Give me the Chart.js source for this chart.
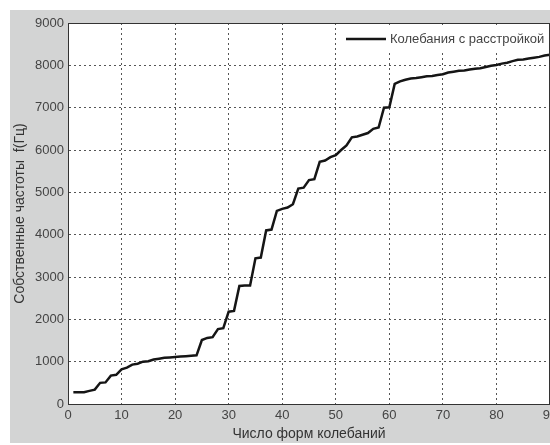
<!DOCTYPE html>
<html>
<head>
<meta charset="utf-8">
<script src="https://cdn.jsdelivr.net/npm/chart.js@4.4.1/dist/chart.umd.min.js"></script>
<style>
  body { margin: 0; background: #fff; }
  #wrap { width: 550px; height: 445px; }
</style>
</head>
<body>
<div id="wrap"><canvas id="chart" width="550" height="445"></canvas></div>
<script>
// номер формы колебаний
var Modes = [];
for (let i = 1; i <= 90; i++) Modes.push(i);

// собственные частоты, Гц (колебания с расстройкой)
var Freq = [
    280, 280, 280, 310, 340, 500, 510, 670, 690, 820,
    860, 930, 950, 1000, 1010, 1050, 1070, 1090, 1100, 1110,
    1120, 1130, 1140, 1150, 1510, 1560, 1580, 1770, 1790, 2180,
    2200, 2790, 2800, 2800, 3440, 3460, 4100, 4120, 4560, 4610,
    4640, 4720, 5090, 5110, 5290, 5310, 5720, 5750, 5830, 5880,
    6000, 6110, 6300, 6320, 6360, 6400, 6500, 6530, 7000, 7010,
    7560, 7620, 7660, 7690, 7700, 7720, 7740, 7750, 7770, 7790,
    7830, 7850, 7870, 7880, 7900, 7920, 7930, 7960, 7990, 8010,
    8040, 8060, 8100, 8130, 8140, 8160, 8180, 8200, 8230, 8250
];

var SeriesName = "Колебания с расстройкой";
var XTitle = "Число форм колебаний";
var YTitle = "Собственные частоты  f(Гц)";

var points = [];
for (let i = 0; i < Modes.length; i++) {
    points.push({ x: Modes[i], y: Freq[i] });
}

var font = "'Liberation Sans', Arial, sans-serif";

// серый фон вокруг и белое поле графика, рамка, легенда
var backPlugin = {
    id: 'back',
    beforeDraw: function (chart) {
        var ctx = chart.ctx;
        var a = chart.chartArea;
        ctx.save();
        ctx.fillStyle = '#ffffff';
        ctx.fillRect(0, 0, chart.width, chart.height);
        ctx.fillStyle = '#d3d4d4';
        ctx.fillRect(10, 10, chart.width - 10, chart.height - 12);
        ctx.fillStyle = '#ffffff';
        ctx.fillRect(a.left, a.top, a.right - a.left, a.bottom - a.top);
        ctx.restore();
    },
    afterDraw: function (chart) {
        var ctx = chart.ctx;
        var a = chart.chartArea;
        var ds = chart.data.datasets[0];
        ctx.save();
        ctx.strokeStyle = '#333';
        ctx.lineWidth = 1;
        ctx.strokeRect(a.left + 0.5, a.top + 0.5, a.right - a.left - 1, a.bottom - a.top);

        // легенда
        var ly = a.top + 16;
        ctx.fillStyle = '#ffffff';
        ctx.fillRect(a.right - 210, a.top + 4, 208, 24);
        ctx.strokeStyle = ds.borderColor;
        ctx.lineWidth = ds.borderWidth;
        ctx.beginPath();
        ctx.moveTo(a.right - 204, ly);
        ctx.lineTo(a.right - 164, ly);
        ctx.stroke();
        ctx.fillStyle = '#444';
        ctx.font = '13px ' + font;
        ctx.textBaseline = 'middle';
        ctx.textAlign = 'left';
        ctx.fillText(ds.label, a.right - 160, ly);
        ctx.restore();
    }
};

new Chart(document.getElementById('chart'), {
    type: 'line',
    data: {
        datasets: [{
            label: SeriesName,
            data: points,
            borderColor: '#151515',
            backgroundColor: '#151515',
            borderWidth: 2.5,
            pointRadius: 0,
            tension: 0,
            fill: false
        }]
    },
    options: {
        responsive: false,
        animation: false,
        layout: { padding: { left: 10, top: 23, right: 0, bottom: 2 } },
        plugins: {
            tooltip: { enabled: false },
            legend: { display: false }
        },
        scales: {
            x: {
                type: 'linear',
                min: 0,
                max: 90,
                ticks: {
                    stepSize: 10,
                    color: '#444',
                    font: { family: font, size: 13 },
                    padding: 4,
                    maxRotation: 0,
                    callback: function (v) { return String(v); }
                },
                grid: { color: '#555', lineWidth: 1, drawTicks: false },
                border: { display: true, color: '#333', dash: [2, 3] },
                title: {
                    display: true,
                    text: XTitle,
                    color: '#333',
                    font: { family: font, size: 14 },
                    padding: { top: 0, bottom: 0 }
                },
                afterFit: function (s) {
                    s.height = 39;
                    s.paddingLeft = 0;
                    s.paddingRight = 0;
                }
            },
            y: {
                min: 0,
                max: 9000,
                ticks: {
                    stepSize: 1000,
                    color: '#444',
                    font: { family: font, size: 13 },
                    padding: 4,
                    callback: function (v) { return String(v); }
                },
                grid: { color: '#555', lineWidth: 1, drawTicks: false },
                border: { display: true, color: '#333', dash: [2, 3] },
                title: {
                    display: true,
                    text: YTitle,
                    color: '#333',
                    font: { family: font, size: 14 },
                    padding: { top: 2, bottom: 0 }
                },
                afterFit: function (s) {
                    s.width = 58;
                    s.paddingTop = 0;
                    s.paddingBottom = 0;
                }
            }
        }
    },
    plugins: [backPlugin]
});
</script>
</body>
</html>
